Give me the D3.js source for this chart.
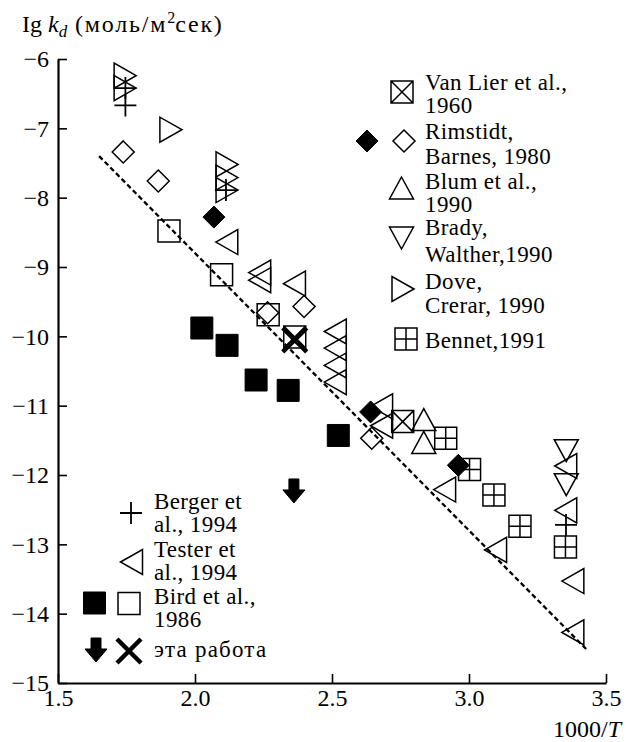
<!DOCTYPE html>
<html>
<head>
<meta charset="utf-8">
<script src="https://cdn.jsdelivr.net/npm/d3@7"></script>
<style>
  body { margin: 0; background: #fff; }
  text { font-family: 'Liberation Serif', 'Times New Roman', serif; fill: #000; }
</style>
</head>
<body>
<div id="chart"></div>
<script>
// values: [1000/T, lg kd]
var vanLier = [[2.364, -10.01], [2.758, -11.23]];
var rimstidtFilled = [[2.069, -8.28], [2.641, -11.09], [2.961, -11.86]];
var rimstidtOpen = [[1.738, -7.34], [1.866, -7.76], [2.265, -9.66], [2.398, -9.57], [2.645, -11.47]];
var blum = [[2.835, -11.20], [2.835, -11.53]];
var brady = [[3.355, -11.65], [3.355, -12.14]];
var dove = [[1.745, -6.24], [1.745, -6.42], [1.912, -7.02], [2.117, -7.52], [2.117, -7.71], [2.117, -7.89]];
var bennet = [[2.915, -11.47], [3.002, -11.92], [3.091, -12.29], [3.186, -12.74], [3.352, -13.04]];
var berger = [[1.746, -6.42], [1.746, -6.67], [2.113, -7.89], [3.354, -12.72]];
var tester = [[2.116, -8.64], [2.236, -9.08], [2.236, -9.19], [2.363, -9.24],
  [2.512, -9.93], [2.512, -10.17], [2.512, -10.42], [2.512, -10.66],
  [2.681, -11.01], [2.681, -11.29], [2.911, -12.21], [3.097, -13.08],
  [3.353, -11.87], [3.353, -12.51], [3.379, -13.53], [3.379, -14.27]];
var birdFilled = [[2.025, -9.88], [2.117, -10.13], [2.223, -10.63], [2.340, -10.78], [2.523, -11.43]];
var birdOpen = [[1.905, -8.48], [2.097, -9.11], [2.267, -9.69]];
var thisWorkArrow = [[2.361, -12.23]];
var thisWorkCross = [[2.364, -10.05]];
var fitLine = [[1.65, -7.40], [3.43, -14.52]];

var xTicks = [1.5, 2.0, 2.5, 3.0, 3.5];
var yTicks = [-15, -14, -13, -12, -11, -10, -9, -8, -7, -6];

var rightLegend = [
  ["Van Lier et al.,", "1960"],
  ["Rimstidt,", "Barnes, 1980"],
  ["Blum et al.,", "1990"],
  ["Brady,", "Walther,1990"],
  ["Dove,", "Crerar, 1990"],
  ["Bennet,1991"]
];
var leftLegend = [
  ["Berger et", "al., 1994"],
  ["Tester et", "al., 1994"],
  ["Bird et al.,", "1986"],
  ["эта работа"]
];

var width = 626, height = 742;
var svg = d3.select('#chart').append('svg')
  .attr('width', width)
  .attr('height', height);

var x = d3.scaleLinear().domain([1.5, 3.5]).range([58, 606]);
var y = d3.scaleLinear().domain([-15, -6]).range([683, 59]);

// marker shapes, centred on 0,0
function shape(type) {
  var sq = 'M-11,-11H11V11H-11Z';
  switch (type) {
    case 'square': return sq;
    case 'squareX': return sq + 'M-11,-11L11,11M11,-11L-11,11';
    case 'squarePlus': return sq + 'M0,-11V11M-11,0H11';
    case 'diamond': return 'M0,-11L11,0L0,11L-11,0Z';
    case 'triUp': return 'M0,-11L12,11H-12Z';
    case 'triDown': return 'M0,11L12,-11H-12Z';
    case 'triRight': return 'M11,0L-11,-12.5V12.5Z';
    case 'triLeft': return 'M-11,0L11,-12.5V12.5Z';
    case 'plus': return 'M0,-11V11M-11,0H11';
    case 'cross': return 'M-12,-12L12,12M12,-12L-12,12';
    case 'arrow': return 'M-5,-12H5V-1H11L0,12L-11,-1H-5Z';
  }
}
var styles = {
  square: { fill: 'none', sw: 1.5 },
  squareFilled: { fill: '#000', sw: 1 },
  squareX: { fill: 'none', sw: 1.5 },
  squarePlus: { fill: 'none', sw: 1.5 },
  diamond: { fill: 'none', sw: 1.5 },
  diamondFilled: { fill: '#000', sw: 1 },
  triUp: { fill: 'none', sw: 1.5 },
  triDown: { fill: 'none', sw: 1.5 },
  triRight: { fill: 'none', sw: 1.5 },
  triLeft: { fill: 'none', sw: 1.5 },
  plus: { fill: 'none', sw: 1.8 },
  cross: { fill: 'none', sw: 4.5 },
  arrow: { fill: '#000', sw: 1 }
};
function shapeOf(kind) { return kind.replace('Filled', ''); }

function drawSymbol(g, kind, cx, cy) {
  var st = styles[kind];
  g.append('path')
    .attr('transform', 'translate(' + cx + ',' + cy + ')')
    .attr('d', shape(shapeOf(kind)))
    .attr('fill', st.fill)
    .attr('stroke', '#000')
    .attr('stroke-width', st.sw);
}

// axes, ticks pointing inwards
var xAxis = d3.axisBottom(x).tickValues(xTicks).tickFormat(d3.format('.1f'))
  .tickSizeInner(-9).tickSizeOuter(0).tickPadding(6);
var yAxis = d3.axisLeft(y).tickValues(yTicks).tickFormat(d3.format('d'))
  .tickSizeInner(-9).tickSizeOuter(0).tickPadding(9);

var gx = svg.append('g').attr('transform', 'translate(0,' + y(-15) + ')').call(xAxis);
var gy = svg.append('g').attr('transform', 'translate(' + x(1.5) + ',0)').call(yAxis);
[gx, gy].forEach(function(g) {
  g.select('.domain').attr('stroke', '#000').attr('stroke-width', 2.2);
  g.selectAll('.tick line').attr('stroke', '#000').attr('stroke-width', 1.6);
  g.selectAll('.tick text').attr('font-size', 24)
    .attr('font-family', "'Liberation Serif', 'Times New Roman', serif").attr('fill', '#000');
});

// axis titles
var yt = svg.append('text').attr('x', 22).attr('y', 32).attr('font-size', 24);
yt.append('tspan').text('Ig ');
yt.append('tspan').attr('font-style', 'italic').text('k');
yt.append('tspan').attr('font-style', 'italic').attr('font-size', 17).attr('dy', 5).text('d');
yt.append('tspan').attr('dy', -5).attr('letter-spacing', 1.8).text(' (моль/м');
yt.append('tspan').attr('font-size', 16).attr('dy', -9).text('2');
yt.append('tspan').attr('dy', 9).attr('letter-spacing', 1.8).text('сек)');

var xt = svg.append('text').attr('x', 621).attr('y', 737).attr('font-size', 24)
  .attr('text-anchor', 'end');
xt.append('tspan').text('1000/');
xt.append('tspan').attr('font-style', 'italic').text('T');

// fitted line
svg.append('path')
  .datum(fitLine)
  .attr('d', d3.line().x(function(d) { return x(d[0]); }).y(function(d) { return y(d[1]); }))
  .attr('fill', 'none')
  .attr('stroke', '#000')
  .attr('stroke-width', 2.3)
  .attr('stroke-dasharray', '5,3');

// data points
var series = [
  { data: birdOpen, kind: 'square' },
  { data: birdFilled, kind: 'squareFilled' },
  { data: vanLier, kind: 'squareX' },
  { data: bennet, kind: 'squarePlus' },
  { data: rimstidtOpen, kind: 'diamond' },
  { data: blum, kind: 'triUp' },
  { data: brady, kind: 'triDown' },
  { data: dove, kind: 'triRight' },
  { data: tester, kind: 'triLeft' },
  { data: rimstidtFilled, kind: 'diamondFilled' },
  { data: berger, kind: 'plus' },
  { data: thisWorkCross, kind: 'cross' },
  { data: thisWorkArrow, kind: 'arrow' }
];
var gp = svg.append('g');
series.forEach(function(s) {
  var st = styles[s.kind];
  gp.selectAll(null)
    .data(s.data)
    .enter()
    .append('path')
    .attr('transform', function(d) { return 'translate(' + x(d[0]) + ',' + y(d[1]) + ')'; })
    .attr('d', shape(shapeOf(s.kind)))
    .attr('fill', st.fill)
    .attr('stroke', '#000')
    .attr('stroke-width', st.sw);
});

// legends
function legendText(g, lines, tx, baselines, spacing) {
  lines.forEach(function(line, i) {
    g.append('text').attr('x', tx).attr('y', baselines[i]).attr('font-size', 23)
      .attr('letter-spacing', spacing).text(line);
  });
}
var lg = svg.append('g');
var rightSymbols = [
  [['squareX', 402, 92]],
  [['diamondFilled', 367, 141], ['diamond', 404, 141]],
  [['triUp', 401.5, 188]],
  [['triDown', 401.5, 238]],
  [['triRight', 403, 289]],
  [['squarePlus', 406, 339]]
];
var rightBaselines = [[90, 113], [139, 164], [189, 212], [235, 262], [289, 313], [348]];
rightLegend.forEach(function(lines, i) {
  rightSymbols[i].forEach(function(s) { drawSymbol(lg, s[0], s[1], s[2]); });
  legendText(lg, lines, 425, rightBaselines[i], 0.4);
});

var leftSymbols = [
  [['plus', 131, 513]],
  [['triLeft', 131.5, 562]],
  [['squareFilled', 94.5, 603], ['square', 129, 603.5]],
  [['arrow', 96, 650], ['cross', 129, 651]]
];
var leftBaselines = [[509, 532], [557, 580], [604, 627], [657]];
leftLegend.forEach(function(lines, i) {
  leftSymbols[i].forEach(function(s) { drawSymbol(lg, s[0], s[1], s[2]); });
  legendText(lg, lines, 154, leftBaselines[i], i === 3 ? 1.2 : 0.4);
});
</script>
</body>
</html>
